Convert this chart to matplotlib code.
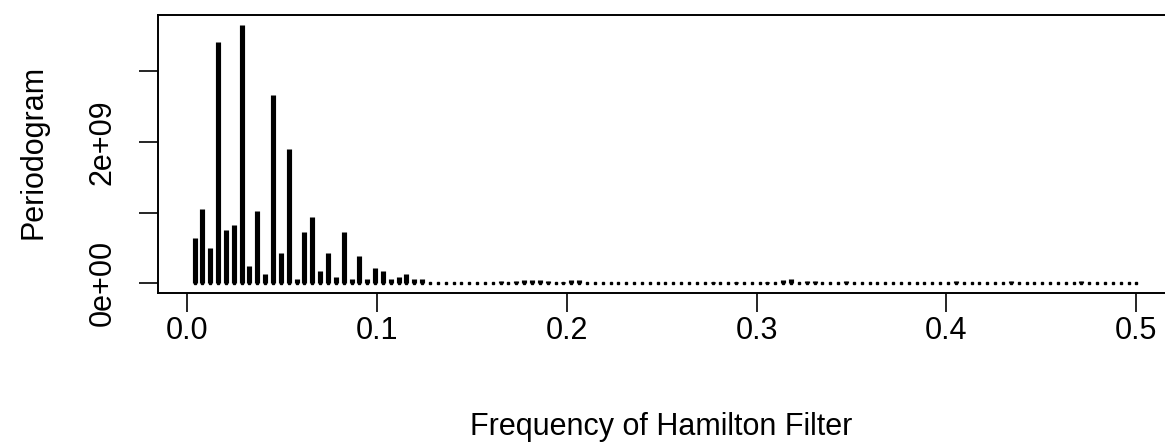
import numpy as np
import matplotlib
matplotlib.use("Agg")
import matplotlib.pyplot as plt

plt.rcParams['font.family'] = ['Liberation Sans', 'DejaVu Sans']

# periodogram ordinates (units of 1e9) at Fourier frequencies k/242, k = 1..121
n_obs = 242
pgram_low = [0.645, 1.05, 0.50, 3.41, 0.76, 0.83, 3.66, 0.24, 1.02, 0.13,
             2.67, 0.43, 1.90, 0.066, 0.72, 0.94, 0.17, 0.43, 0.094, 0.72,
             0.066, 0.39, 0.066, 0.21, 0.17, 0.066, 0.094, 0.13, 0.066, 0.066]
# tail: mostly near zero with a few small bumps
pgram_tail = [0.004, 0.004, 0.004, 0.004, 0.004, 0.004, 0.004, 0.004, 0.01, 0.03,   # k 31-40
              0.004, 0.035, 0.045, 0.05, 0.05, 0.035, 0.004, 0.02, 0.045, 0.045,    # k 41-50
              0.004, 0.004, 0.004, 0.004, 0.004, 0.004, 0.004, 0.004, 0.004, 0.004,  # k 51-60
              0.004, 0.004, 0.004, 0.004, 0.004, 0.004, 0.025, 0.004, 0.004, 0.02,   # k 61-70
              0.004, 0.004, 0.004, 0.025, 0.004, 0.05, 0.06, 0.004, 0.03, 0.03,      # k 71-80
              0.004, 0.004, 0.004, 0.03, 0.004, 0.004, 0.004, 0.004, 0.004, 0.004,   # k 81-90
              0.004, 0.004, 0.004, 0.004, 0.004, 0.004, 0.004, 0.03, 0.004, 0.004,   # k 91-100
              0.004, 0.004, 0.004, 0.004, 0.03, 0.004, 0.004, 0.004, 0.004, 0.004,   # k 101-110
              0.004, 0.004, 0.004, 0.035, 0.004, 0.004, 0.004, 0.004, 0.004, 0.004,  # k 111-120
              0.004]                                                                 # k 121
pgram = np.array(pgram_low + pgram_tail) * 1e9
freq = np.arange(1, len(pgram) + 1) / n_obs

xticks = [0.0, 0.1, 0.2, 0.3, 0.4, 0.5]
xtick_labels = ["0.0", "0.1", "0.2", "0.3", "0.4", "0.5"]
yticks = [0, 1e9, 2e9, 3e9]
ytick_labels = ["0e+00", "", "2e+09", ""]

W, H = 1165, 444
fig = plt.figure(figsize=(W / 100, H / 100), dpi=100)
ax = fig.add_axes([158 / W, (H - 292.7) / H, (1174 - 158) / W, (292.7 - 15) / H])

# type="h" style spikes plus the little end dots R draws for ~zero values
ax.vlines(freq, 0, pgram, colors='black', linewidth=3.7, capstyle='butt')
ax.plot(freq, np.zeros_like(freq), linestyle='none', marker='s',
        markersize=2.1, color='black')

ax.set_xlim(-0.0151, 0.5198)
ax.set_ylim(-0.133e9, 3.795e9)

ax.set_xticks(xticks)
ax.set_xticklabels(xtick_labels)
ax.set_yticks(yticks)
ax.set_yticklabels(ytick_labels, rotation=90, va='center')
ax.tick_params(axis='both', length=14, width=1.2, labelsize=22, direction='out')
ax.tick_params(axis='x', pad=3)
ax.tick_params(axis='y', pad=15)
for s in ax.spines.values():
    s.set_linewidth(1.4)

ax.set_xlabel("Frequency of Hamilton Filter", fontsize=22)
ax.set_ylabel("Periodogram", fontsize=22)
ax.xaxis.label.set_va('center')
ax.yaxis.label.set_va('center')
ax.xaxis.set_label_coords((661 - 158) / (1174 - 158), (292.7 - 427) / 277.7)
ax.yaxis.set_label_coords((34 - 158) / (1174 - 158), (292.7 - 152) / 277.7)

fig.savefig("out.png", dpi=100)
